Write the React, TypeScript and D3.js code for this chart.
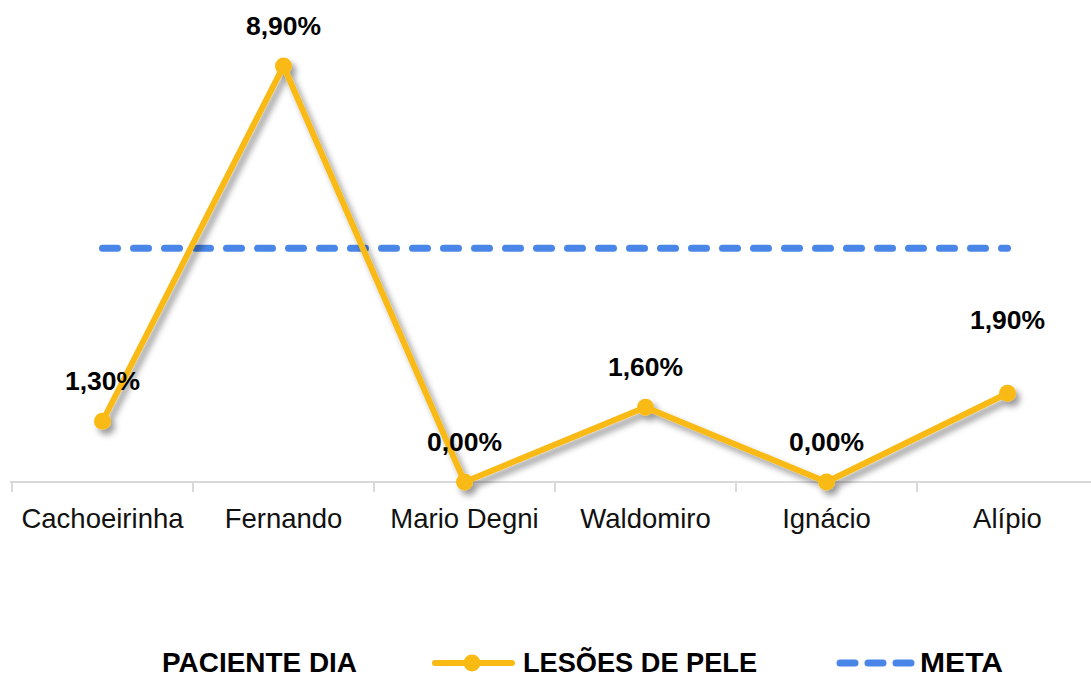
import React from "react";
import * as d3 from "d3";

const categories = ["Cachoeirinha", "Fernando", "Mario Degni", "Waldomiro", "Ignácio", "Alípio"];
const lesoesValues = [1.3, 8.9, 0.0, 1.6, 0.0, 1.9];
const metaValue = 5;
const labelTexts = ["1,30%", "8,90%", "0,00%", "1,60%", "0,00%", "1,90%"];
const legendTitle = "PACIENTE DIA";
const seriesName = "LESÕES DE PELE";
const metaName = "META";

const W = 1091;
const H = 679;
const ORANGE = "#F9BA14";
const BLUE = "#4A86E8";
const FONT = "'Liberation Sans', Arial, Helvetica, sans-serif";

export default function App() {
  const x = d3.scaleBand<string>().domain(categories).range([12, 1098]).padding(0);
  const y = d3.scaleLinear().domain([0, 10]).range([482, 14.6]);
  const cx = (c: string) => (x(c) as number) + x.bandwidth() / 2;

  const line = d3
    .line<number>()
    .x((_, i) => cx(categories[i]))
    .y((d) => y(d));

  const ticks = [...categories.map((c) => x(c) as number), 1098];
  const metaX0 = cx(categories[0]);
  const metaX1 = cx(categories[categories.length - 1]);

  const legendY = 672;

  return (
    <svg
      width={W}
      height={H}
      viewBox={`0 0 ${W} ${H}`}
      style={{ position: "absolute", left: 0, top: 0, display: "block", background: "#fff" }}
    >
      <defs>
        <filter id="shadow" x="-20%" y="-20%" width="140%" height="140%">
          <feDropShadow dx="4" dy="5" stdDeviation="3" floodColor="#000" floodOpacity="0.4" />
        </filter>
        <clipPath id="axisClip">
          <rect x={0} y={0} width={W} height={535} />
        </clipPath>
      </defs>
      <rect x={0} y={0} width={W} height={H} fill="#fff" />

      {/* axis */}
      <line x1={10} x2={W} y1={y(0)} y2={y(0)} stroke="#D9D9D9" strokeWidth={2} />
      {ticks.map((t, i) => (
        <line key={i} x1={t} x2={t} y1={y(0)} y2={y(0) + 10} stroke="#D9D9D9" strokeWidth={2} />
      ))}
      <g clipPath="url(#axisClip)">
        {categories.map((c) => (
          <text
            key={c}
            x={cx(c)}
            y={528}
            textAnchor="middle"
            fontFamily={FONT}
            fontSize={27.5}
            fill="#111"
          >
            {c}
          </text>
        ))}
      </g>

      {/* meta dashed line */}
      <line
        x1={metaX0}
        x2={metaX1}
        y1={y(metaValue)}
        y2={y(metaValue)}
        stroke={BLUE}
        strokeWidth={7}
        strokeDasharray="15 16"
        strokeLinecap="round"
      />

      {/* series */}
      <g filter="url(#shadow)">
        <path d={line(lesoesValues) || ""} fill="none" stroke={ORANGE} strokeWidth={6} strokeLinejoin="round" />
        {lesoesValues.map((v, i) => (
          <circle key={i} cx={cx(categories[i])} cy={y(v)} r={8.5} fill={ORANGE} />
        ))}
      </g>

      {/* data labels */}
      {lesoesValues.map((v, i) => (
        <text
          key={i}
          x={cx(categories[i])}
          y={y(v) - (i === lesoesValues.length - 1 ? 64 : 31)}
          textAnchor="middle"
          fontFamily={FONT}
          fontWeight="bold"
          fontSize={26.5}
          fill="#000"
        >
          {labelTexts[i]}
        </text>
      ))}

      {/* legend */}
      <g fontFamily={FONT} fontWeight="bold" fontSize={28} fill="#000">
        <text x={162} y={legendY} textLength={195} lengthAdjust="spacingAndGlyphs">
          {legendTitle}
        </text>
        <line x1={435} x2={512} y1={663} y2={663} stroke={ORANGE} strokeWidth={6} strokeLinecap="round" />
        <circle cx={472} cy={663} r={8.5} fill={ORANGE} />
        <text x={523} y={legendY} textLength={234} lengthAdjust="spacingAndGlyphs">
          {seriesName}
        </text>
        <line
          x1={840}
          x2={912}
          y1={663}
          y2={663}
          stroke={BLUE}
          strokeWidth={7}
          strokeDasharray="15 13"
          strokeLinecap="round"
        />
        <text x={920} y={legendY} textLength={83} lengthAdjust="spacingAndGlyphs">
          {metaName}
        </text>
      </g>
    </svg>
  );
}
